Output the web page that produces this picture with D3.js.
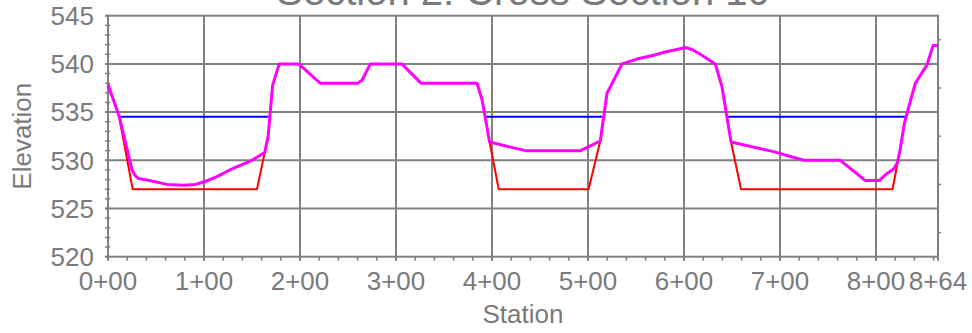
<!DOCTYPE html>
<html>
<head>
<meta charset="utf-8">
<script src="https://cdn.jsdelivr.net/npm/d3@7"></script>
<style>
  html, body { margin: 0; padding: 0; background: #fff; }
  svg { display: block; }
  text { font-family: "Liberation Sans", Arial, sans-serif; fill: #7a7a7a; }
</style>
</head>
<body>
<svg id="chart" width="972" height="333"></svg>
<script>
// ---- Data ----
const chartTitle = "Section 2: Cross Section 10";
const xAxisTitle = "Station";
const yAxisTitle = "Elevation";

const stationMax = 864.58;
const xTickValues = [0, 100, 200, 300, 400, 500, 600, 700, 800, 864.58];
const yTickValues = [520, 525, 530, 535, 540, 545];

// Ground profile (magenta)
const groundStations = [0, 11.8, 25, 28.4, 31.9, 40.6, 61.5, 78.8, 91, 101.4, 113.5, 130.9, 150, 163.2, 166.7, 171.5, 178.4, 198.6, 221, 260, 264.6, 273.3, 306, 326, 384.4, 389.6, 397.5, 434.7, 492, 512.8, 519.8, 523.2, 535.4, 551, 568.4, 578.8, 592.7, 601.4, 608.3, 617, 632.6, 639.6, 649, 693.4, 724.6, 762.8, 789, 803.4, 809.7, 818.4, 822.5, 825.3, 829.5, 834, 841, 853.1, 859.4, 864.58];
const groundElevations = [537.9, 534.5, 529.0, 528.4, 528.1, 527.95, 527.5, 527.4, 527.5, 527.8, 528.3, 529.2, 530.0, 530.8, 532.4, 537.8, 540.0, 540.0, 538.0, 538.0, 538.3, 540.0, 540.0, 538.0, 538.0, 536.3, 531.9, 531.0, 531.0, 532.0, 536.95, 537.6, 540.0, 540.5, 540.9, 541.2, 541.5, 541.7, 541.5, 541.0, 540.0, 537.6, 531.9, 530.9, 530.0, 530.0, 527.9, 527.9, 528.5, 529.1, 529.8, 531.2, 533.8, 535.5, 538.0, 539.9, 541.9, 541.9];

// Design channels (red)
const channel1Stations = [11.8, 25.7, 155.2, 163.2];
const channel1Elevations = [534.4, 527.0, 527.0, 530.8];
const channel2Stations = [397.5, 407, 500.6, 512.8];
const channel2Elevations = [531.9, 527.0, 527.0, 532.0];
const channel3Stations = [649, 659.4, 817.3, 822.5];
const channel3Elevations = [531.9, 527.0, 527.0, 529.8];

// Water surface (blue)
const waterElevation = 534.52;
const waterStarts = [11.8, 392.3, 644.8];
const waterEnds = [167.3, 514.6, 831.4];

// ---- Chart ----
const svg = d3.select("#chart");
const x = d3.scaleLinear().domain([0, stationMax]).range([108, 938]);
const y = d3.scaleLinear().domain([520, 545]).range([256.7, 15.7]);
const grey = "#808080";

const fmtStation = d => Math.floor(d / 100) + "+" + String(Math.floor(d % 100)).padStart(2, "0");

// grid
const g = svg.append("g");
g.selectAll(".vg").data([100, 200, 300, 400, 500, 600, 700, 800]).join("line")
  .attr("x1", d => x(d)).attr("x2", d => x(d))
  .attr("y1", y(545)).attr("y2", y(520) + 4)
  .attr("stroke", grey).attr("stroke-width", 2);
g.selectAll(".hg").data([525, 530, 535, 540]).join("line")
  .attr("x1", x(0) - 3).attr("x2", x(stationMax))
  .attr("y1", d => y(d)).attr("y2", d => y(d))
  .attr("stroke", grey).attr("stroke-width", 2);

// minor ticks
const yMinor = d3.range(520, 545.01, 1);
g.selectAll(".ym").data(yMinor).join("line")
  .attr("x1", x(0) - 3).attr("x2", x(0) + 2)
  .attr("y1", d => y(d)).attr("y2", d => y(d))
  .attr("stroke", grey).attr("stroke-width", 1.5);
const xMinor = d3.range(0, 861, 20);
g.selectAll(".xm").data(xMinor).join("line")
  .attr("x1", d => x(d)).attr("x2", d => x(d))
  .attr("y1", y(520)).attr("y2", y(520) + 4)
  .attr("stroke", grey).attr("stroke-width", 1.5);
const rMinor = [522.5, 527.5, 532.5, 537.5, 542.5];
g.selectAll(".rm").data(rMinor).join("line")
  .attr("x1", x(stationMax)).attr("x2", x(stationMax) + 3)
  .attr("y1", d => y(d)).attr("y2", d => y(d))
  .attr("stroke", grey).attr("stroke-width", 1.5);

// frame
g.append("rect")
  .attr("x", x(0)).attr("y", y(545))
  .attr("width", x(stationMax) - x(0)).attr("height", y(520) - y(545))
  .attr("fill", "none").attr("stroke", grey).attr("stroke-width", 2);
g.append("line").attr("x1", x(0) - 3).attr("x2", x(0))
  .attr("y1", y(520)).attr("y2", y(520)).attr("stroke", grey).attr("stroke-width", 2);
g.append("line").attr("x1", x(0) - 3).attr("x2", x(0))
  .attr("y1", y(545)).attr("y2", y(545)).attr("stroke", grey).attr("stroke-width", 2);
g.append("line").attr("x1", x(0)).attr("x2", x(0))
  .attr("y1", y(520)).attr("y2", y(520) + 4).attr("stroke", grey).attr("stroke-width", 2);
g.append("line").attr("x1", x(stationMax)).attr("x2", x(stationMax))
  .attr("y1", y(520)).attr("y2", y(520) + 4).attr("stroke", grey).attr("stroke-width", 2);

// tick labels
svg.selectAll(".yl").data(yTickValues).join("text")
  .attr("x", x(0) - 14).attr("y", d => y(d)).attr("dy", "0.36em")
  .attr("text-anchor", "end").attr("font-size", 26)
  .text(d => d);
svg.selectAll(".xl").data(xTickValues).join("text")
  .attr("x", d => x(d)).attr("y", 290)
  .attr("text-anchor", "middle").attr("font-size", 26)
  .text(d => fmtStation(d));

// axis titles
svg.append("text").attr("x", (x(0) + x(stationMax)) / 2).attr("y", 323)
  .attr("text-anchor", "middle").attr("font-size", 26).text(xAxisTitle);
svg.append("text")
  .attr("transform", `translate(31,${(y(520) + y(545)) / 2}) rotate(-90)`)
  .attr("text-anchor", "middle").attr("font-size", 26).text(yAxisTitle);

// chart title
svg.append("text").attr("x", (x(0) + x(stationMax)) / 2).attr("y", 5)
  .attr("text-anchor", "middle").attr("font-size", 40).text(chartTitle);

// data lines
const line = d3.line().x(d => x(d[0])).y(d => y(d[1]));

// water surface
svg.selectAll(".water").data(d3.zip(waterStarts, waterEnds)).join("path")
  .attr("d", d => line([[d[0], waterElevation], [d[1], waterElevation]]))
  .attr("fill", "none").attr("stroke", "#0000ff").attr("stroke-width", 2);

// channels
const channels = [
  d3.zip(channel1Stations, channel1Elevations),
  d3.zip(channel2Stations, channel2Elevations),
  d3.zip(channel3Stations, channel3Elevations)
];
svg.selectAll(".chan").data(channels).join("path")
  .attr("d", line)
  .attr("fill", "none").attr("stroke", "#ff0000").attr("stroke-width", 2)
  .attr("stroke-linejoin", "round");

// ground
svg.append("path").datum(d3.zip(groundStations, groundElevations))
  .attr("d", line)
  .attr("fill", "none").attr("stroke", "#ff00ff").attr("stroke-width", 3)
  .attr("stroke-linejoin", "round");
</script>
</body>
</html>
